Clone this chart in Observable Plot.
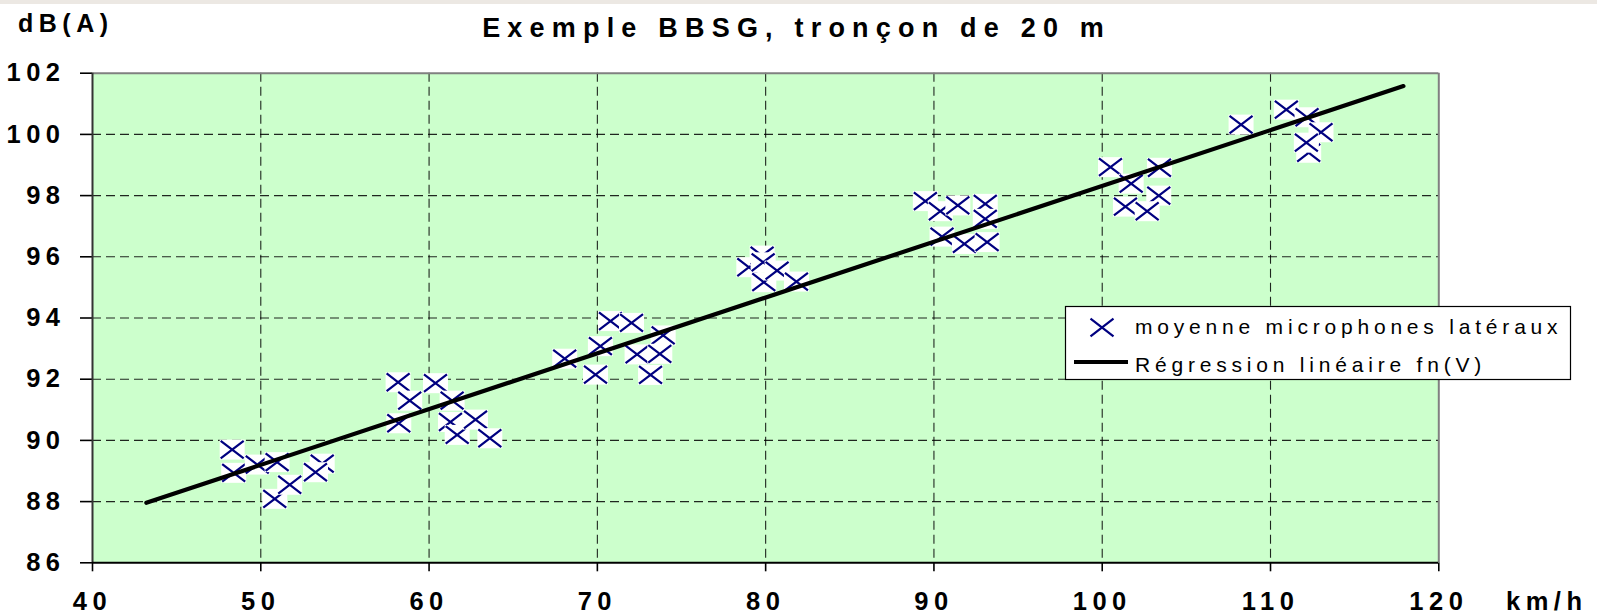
<!DOCTYPE html>
<html>
<head>
<meta charset="utf-8">
<script src="https://cdn.jsdelivr.net/npm/d3@7"></script>
<script src="https://cdn.jsdelivr.net/npm/@observablehq/plot@0.6"></script>
<style>
  html, body { margin: 0; padding: 0; background: #ece8e3; }
  #chart { margin-top: 4px; background: #ffffff; width: 1597px; height: 610px; }
  #chart svg { display: block; }
</style>
</head>
<body>
<div id="chart"></div>
<script>
// ---- data ----
const title = "Exemple BBSG, tronçon de 20 m";
const yLabel = "dB(A)";
const xLabel = "km/h";
const seriesPoints = "moyenne microphones latéraux";
const seriesLine = "Régression linéaire fn(V)";

const speed = [48.30, 48.39, 49.79, 50.97, 50.83, 51.72, 53.65, 53.25,
  58.16, 58.85, 58.20, 60.38, 61.27, 61.37, 61.67, 62.76, 63.61,
  68.06, 69.89, 70.18, 70.78, 72.03, 72.36, 73.16, 73.91, 73.71,
  79.00, 79.79, 79.85, 79.89, 80.68, 81.83,
  89.49, 90.38, 91.42, 93.05, 93.05, 90.48, 91.81, 93.16,
  100.49, 101.72, 103.40, 103.36, 101.38, 102.67,
  108.25, 110.94, 112.17, 112.27, 113.00, 112.13];
const level = [89.70, 88.94, 89.21, 89.29, 88.09, 88.55, 89.24, 88.96,
  91.90, 91.30, 90.56, 91.87, 90.60, 91.30, 90.18, 90.68, 90.07,
  92.67, 92.15, 93.08, 93.90, 93.84, 92.81, 92.14, 93.43, 92.83,
  95.66, 96.04, 95.82, 95.17, 95.55, 95.19,
  97.82, 97.49, 97.68, 97.73, 97.24, 96.66, 96.42, 96.48,
  98.93, 98.39, 98.91, 98.00, 97.64, 97.49,
  100.32, 100.81, 100.56, 99.40, 100.07, 99.73];

const regSpeed = [43.2, 117.9];
const regLevel = [87.96, 101.58];

const xTicks = [40, 50, 60, 70, 80, 90, 100, 110, 120];
const yTicks = [86, 88, 90, 92, 94, 96, 98, 100, 102];

// ---- build ----
const points = speed.map((v, i) => ({v, db: level[i]}));
const reg = regSpeed.map((v, i) => ({v, db: regLevel[i]}));

const boxSym = {draw(ctx) { ctx.rect(-12.5, -10, 25, 20); }};
const xSym = {draw(ctx) {
  ctx.moveTo(-11.5, -8.8); ctx.lineTo(11.5, 8.8);
  ctx.moveTo(-11.5, 8.8); ctx.lineTo(11.5, -8.8);
}};

const markerMarks = points.flatMap(d => [
  Plot.dot([d], {x: "v", y: "db", symbol: boxSym, r: 10, fill: "white", stroke: "none"}),
  Plot.dot([d], {x: "v", y: "db", symbol: xSym, r: 10, fill: "none", stroke: "#000080", strokeWidth: 2.2})
]);

const W = 1597, H = 610;
const chart = Plot.plot({
  width: W,
  height: H,
  marginLeft: 92,
  marginRight: 158.7,
  marginTop: 68.7,
  marginBottom: 51.7,
  style: {fontFamily: "'Liberation Sans', Arial, sans-serif", fontSize: "25.5px", fontWeight: "bold", color: "#000", background: "white"},
  x: {domain: [40, 120], ticks: xTicks, tickFormat: d => String(d), tickSize: 9, tickPadding: 20, label: null},
  y: {domain: [86, 102], ticks: yTicks, tickFormat: d => String(d), tickSize: 12, tickPadding: 15, label: null},
  marks: [
    Plot.frame({fill: "#ccffcc", stroke: "none"}),
    Plot.ruleX(xTicks.slice(1, -1), {stroke: "#000", strokeOpacity: 0.85, strokeWidth: 1.1, strokeDasharray: "9,5"}),
    Plot.ruleY(yTicks.slice(1, -1), {stroke: "#000", strokeOpacity: 0.85, strokeWidth: 1.1, strokeDasharray: "9,5"}),
    Plot.ruleY([102], {stroke: "#808080", strokeWidth: 2}),
    Plot.ruleX([120], {stroke: "#808080", strokeWidth: 2}),
    Plot.ruleX([40], {stroke: "#333", strokeWidth: 2}),
    Plot.ruleY([86], {stroke: "#000", strokeWidth: 2}),
    ...markerMarks,
    Plot.line(reg, {x: "v", y: "db", stroke: "#000", strokeWidth: 4.2})
  ]
});
document.getElementById("chart").appendChild(chart);

const svg = d3.select(chart);
svg.selectAll('[aria-label^="x-axis"] text, [aria-label^="y-axis"] text').attr("letter-spacing", "5.5px");
svg.selectAll('[aria-label^="x-axis"] line, [aria-label^="y-axis"] line, [aria-label^="x-axis"] path, [aria-label^="y-axis"] path').attr("stroke-width", 1.6);

const font = "'Liberation Sans', Arial, sans-serif";
svg.append("text").text(title)
  .attr("x", 796.6).attr("y", 33).attr("text-anchor", "middle")
  .attr("font-family", font).attr("font-size", 27).attr("font-weight", "bold")
  .attr("letter-spacing", "7.2px").attr("fill", "#000");
svg.append("text").text(yLabel)
  .attr("x", 18).attr("y", 27.7).attr("text-anchor", "start")
  .attr("font-family", font).attr("font-size", 25).attr("font-weight", "bold")
  .attr("letter-spacing", "5.5px").attr("fill", "#000");
svg.append("text").text(xLabel)
  .attr("x", 1506).attr("y", 606).attr("text-anchor", "start")
  .attr("font-family", font).attr("font-size", 25.5).attr("font-weight", "bold")
  .attr("letter-spacing", "5.5px").attr("fill", "#000");

// legend
const lg = svg.append("g").attr("font-family", font).attr("font-weight", "normal")
  .attr("font-size", 21).attr("text-anchor", "start");
lg.append("rect").attr("x", 1065.5).attr("y", 302.5).attr("width", 505).attr("height", 73)
  .attr("fill", "white").attr("stroke", "#000").attr("stroke-width", 1.2);
lg.append("path").attr("transform", "translate(1102,323.5)")
  .attr("d", "M-11.5,-8.8L11.5,8.8M-11.5,8.8L11.5,-8.8")
  .attr("stroke", "#000080").attr("stroke-width", 2.2).attr("fill", "none");
lg.append("line").attr("x1", 1074).attr("x2", 1128).attr("y1", 358).attr("y2", 358)
  .attr("stroke", "#000").attr("stroke-width", 4);
lg.append("text").text(seriesPoints).attr("x", 1135).attr("y", 330.4)
  .attr("text-anchor", "start").attr("font-weight", "normal").attr("letter-spacing", "4.8px").attr("fill", "#000");
lg.append("text").text(seriesLine).attr("x", 1135).attr("y", 368)
  .attr("text-anchor", "start").attr("font-weight", "normal").attr("letter-spacing", "4.8px").attr("fill", "#000");
</script>
</body>
</html>
